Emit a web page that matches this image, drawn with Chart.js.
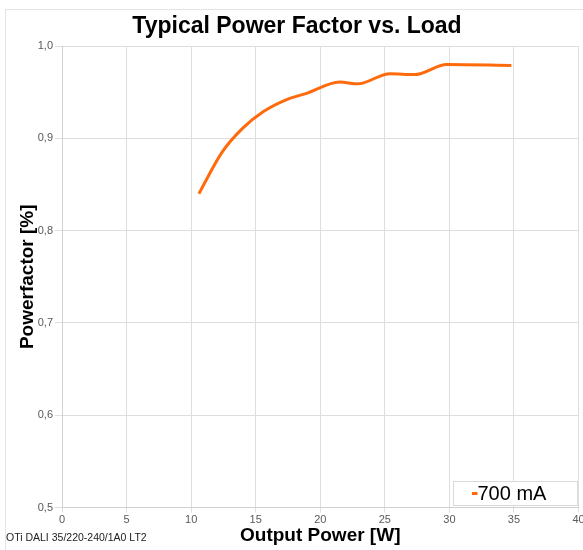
<!DOCTYPE html>
<html>
<head>
<meta charset="utf-8">
<script src="https://cdn.jsdelivr.net/npm/chart.js@4/dist/chart.umd.min.js"></script>
<style>
  html, body { margin: 0; padding: 0; background: #ffffff; }
  #wrap { width: 583px; height: 550px; }
</style>
</head>
<body>
<div id="wrap"><canvas id="c" width="583" height="550"></canvas></div>
<script>
// ---- data ----
const chartTitle = 'Typical Power Factor vs. Load';
const xAxisTitle = 'Output Power [W]';
const yAxisTitle = 'Powerfactor [%]';
const footnote = 'OTi DALI 35/220-240/1A0 LT2';
const seriesLabel = '700 mA';
const outputPower = [10.6, 12.4, 14.0, 15.6, 17.4, 19.0, 21.5, 22.9, 25.4, 27.3, 29.8, 34.8];
const powerFactor = [0.840, 0.885, 0.911, 0.929, 0.942, 0.949, 0.961, 0.959, 0.970, 0.969, 0.980, 0.979];
const xTicks = [0, 5, 10, 15, 20, 25, 30, 35, 40];
const yTicks = [0.5, 0.6, 0.7, 0.8, 0.9, 1.0];

const FONT = "'Liberation Sans', Arial, sans-serif";
const points = outputPower.map((x, i) => ({ x: x, y: powerFactor[i] }));

const decorPlugin = {
  id: 'decor',
  beforeDraw(chart) {
    const ctx = chart.ctx;
    ctx.save();
    ctx.fillStyle = '#ffffff';
    ctx.fillRect(0, 0, chart.width, chart.height);
    ctx.strokeStyle = '#e3e3e3';
    ctx.lineWidth = 1;
    ctx.strokeRect(5.5, 9.5, 700, 700);
    ctx.restore();
  },
  afterDraw(chart) {
    const ctx = chart.ctx;
    ctx.save();
    // title
    ctx.fillStyle = '#000000';
    ctx.font = 'bold 23px ' + FONT;
    ctx.textAlign = 'center';
    ctx.textBaseline = 'alphabetic';
    ctx.fillText(chartTitle, 297, 32.5);
    // footnote
    ctx.font = '10.5px ' + FONT;
    ctx.textAlign = 'left';
    ctx.textBaseline = 'middle';
    ctx.fillStyle = '#222222';
    ctx.fillText(footnote, 6, 538);
    // legend box inside plot area
    const ds = chart.data.datasets[0];
    const bx = 453.5, by = 481.5, bw = 124, bh = 24;
    ctx.fillStyle = '#ffffff';
    ctx.fillRect(bx, by, bw, bh);
    ctx.strokeStyle = '#d9d9d9';
    ctx.lineWidth = 1;
    ctx.strokeRect(bx, by, bw, bh);
    ctx.strokeStyle = ds.borderColor;
    ctx.lineWidth = 3;
    ctx.beginPath();
    ctx.moveTo(472, 493.5);
    ctx.lineTo(477.5, 493.5);
    ctx.stroke();
    ctx.fillStyle = '#000000';
    ctx.font = '20px ' + FONT;
    ctx.textAlign = 'left';
    ctx.textBaseline = 'middle';
    ctx.fillText(ds.label, 477.5, 494);
    ctx.restore();
  }
};

new Chart(document.getElementById('c'), {
  type: 'line',
  data: {
    datasets: [{
      label: seriesLabel,
      data: points,
      borderColor: '#ff6a0d',
      backgroundColor: '#ff6a0d',
      borderWidth: 3,
      pointRadius: 0,
      cubicInterpolationMode: 'monotone',
      fill: false
    }]
  },
  options: {
    responsive: false,
    animation: false,
    devicePixelRatio: 1,
    layout: { padding: { top: 46, left: 5, right: 4.5, bottom: 0 } },
    plugins: {
      legend: { display: false },
      title: { display: false },
      tooltip: { enabled: false }
    },
    scales: {
      x: {
        type: 'linear',
        min: 0, max: 40,
        afterBuildTicks(scale) { scale.ticks = xTicks.map(v => ({ value: v })); },
        afterFit(scale) { scale.height = 42.5; scale.paddingLeft = 0; scale.paddingRight = 0; },
        grid: { color: '#dedede', lineWidth: 1, tickLength: 5, drawTicks: true },
        border: { color: '#d0d0d0' },
        ticks: {
          padding: 1,
          color: '#595959',
          font: { family: FONT, size: 11 },
          maxRotation: 0,
          autoSkip: false,
          callback: v => String(v)
        },
        title: {
          display: true,
          text: xAxisTitle,
          color: '#000000',
          font: { family: FONT, size: 19, weight: 'bold' },
          padding: { top: 0, bottom: 2.6 }
        }
      },
      y: {
        type: 'linear',
        min: 0.5, max: 1.0,
        afterBuildTicks(scale) { scale.ticks = yTicks.map(v => ({ value: v })); },
        afterFit(scale) { scale.width = 57; scale.paddingTop = 0; scale.paddingBottom = 0; },
        grid: { color: '#dedede', lineWidth: 1, tickLength: 7, drawTicks: true },
        border: { color: '#d0d0d0' },
        ticks: {
          padding: 2,
          color: '#595959',
          font: { family: FONT, size: 11 },
          autoSkip: false,
          callback: v => Number(v).toFixed(1).replace('.', ',')
        },
        title: {
          display: true,
          text: yAxisTitle,
          color: '#000000',
          font: { family: FONT, size: 19, weight: 'bold' },
          padding: { top: 11.6, bottom: 0 }
        }
      }
    }
  },
  plugins: [decorPlugin]
});
</script>
</body>
</html>
